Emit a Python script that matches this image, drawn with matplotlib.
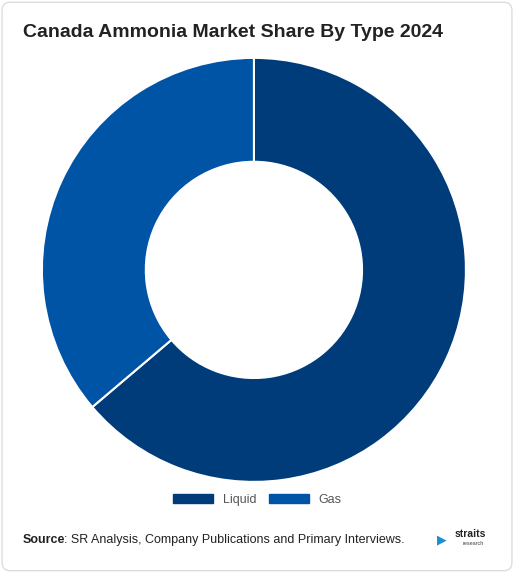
import matplotlib.pyplot as plt
from matplotlib.patches import FancyBboxPatch, Patch

plt.rcParams['font.family'] = ['Liberation Sans', 'DejaVu Sans']

labels = ["Liquid", "Gas"]
values = [63.8, 36.2]
colors = ["#003b7a", "#0054a6"]

fig = plt.figure(figsize=(5.14, 5.73), dpi=100)
fig.patches.append(FancyBboxPatch((0.004, 0.004), 0.992, 0.992, boxstyle="round,pad=0,rounding_size=0.015",
                                  transform=fig.transFigure, fill=False, edgecolor="#dddddd", lw=1))
fig.text(0.045, 0.935, "Canada Ammonia Market Share By Type 2024", fontsize=14, fontweight="bold", color="#222222")

ax = fig.add_axes([0.494 - 0.4125, 0.529 - 0.37, 0.825, 0.74])
ax.pie(values, colors=colors, startangle=90, counterclock=False,
       wedgeprops=dict(width=0.49, edgecolor="white", linewidth=1.5))
ax.set_xlim(-1, 1); ax.set_ylim(-1, 1)
ax.set_aspect("equal")

fig.legend(handles=[Patch(color=c, label=l) for c, l in zip(colors, labels)],
           loc="center", bbox_to_anchor=(0.5, 0.128), ncol=2, frameon=False,
           fontsize=9, handlelength=3.2, handleheight=0.7, labelcolor="#555555", columnspacing=1)

fig.text(0.045, 0.053, "Source", fontsize=9, fontweight="bold", color="#222222")
fig.text(0.125, 0.053, ": SR Analysis, Company Publications and Primary Interviews.", fontsize=9, color="#222222")
fig.text(0.885, 0.062, "straits", fontsize=7.5, fontweight="bold", color="#222222")
fig.text(0.9, 0.048, "research", fontsize=4, color="#444444")
fig.text(0.85, 0.052, "▶", fontsize=9, color="#1a8fd6", family="DejaVu Sans")
fig.savefig("out.png", dpi=100)
